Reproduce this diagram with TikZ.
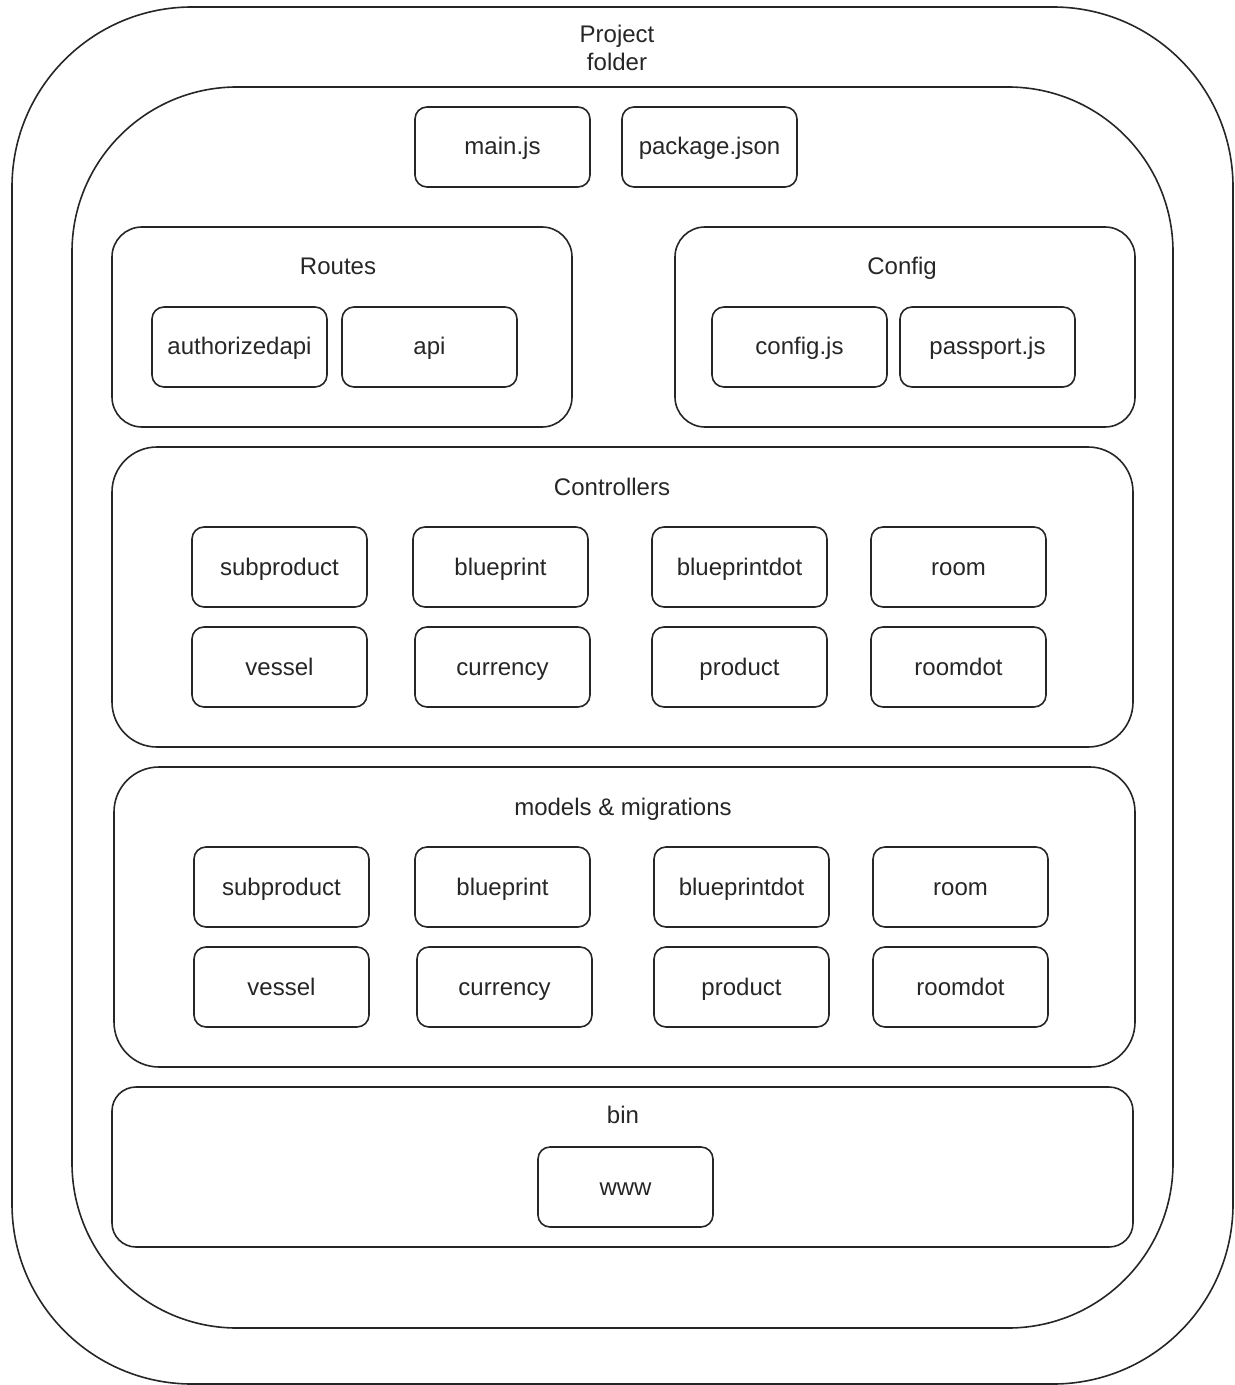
\documentclass[tikz,border=0pt]{standalone}
\usepackage{fontspec}
\setmainfont{Liberation Sans}
\begin{document}
\begin{tikzpicture}[x=0.5pt,y=-0.5pt,
  every node/.style={font=\fontsize{12pt}{14pt}\selectfont, text=black!85},
  frame/.style={draw=black!85, line width=0.8pt, rounded corners=#1, inner sep=0pt},
  file/.style={frame=6pt, minimum width=87.5pt, minimum height=40pt,
               text height=9pt, text depth=1pt},
  title/.style={align=center, inner sep=0pt},
  label/.style={inner sep=0pt, text height=9pt, text depth=1pt}]
\useasboundingbox (0,0) rectangle (1235,1385);

% folders
\node[frame=90pt, minimum width=610.5pt, minimum height=688.5pt] (project) at (622.5,695.5) {};
\node[frame=82.5pt, minimum width=550.5pt, minimum height=620.5pt] (src) at (622.5,707.5) {};
\node[frame=15pt, minimum width=230pt, minimum height=100pt] (routes) at (342,327) {};
\node[frame=15pt, minimum width=230pt, minimum height=100pt] (config) at (905,327) {};
\node[frame=22.5pt, minimum width=510.5pt, minimum height=150pt] (controllers) at (622.5,597) {};
\node[frame=22.5pt, minimum width=510.5pt, minimum height=150pt] (models) at (624.5,917) {};
\node[frame=12pt, minimum width=510.5pt, minimum height=80pt] (bin) at (622.5,1167) {};

% folder titles
\node[title] (projectT) at (617,47.5) {Project\\folder};
\node[label] (routesT) at (338,267) {Routes};
\node[label] (configT) at (902,267) {Config};
\node[label] (controllersT) at (612,487) {Controllers};
\node[label] (modelsT) at (623,807) {models \& migrations};
\node[label] (binT) at (623,1115) {bin};

% top-level files
\node[file] (mainjs) at (502.5,147) {main.js};
\node[file] (pkg) at (709.5,147) {package.json};

% routes
\node[file] (authapi) at (239.5,347) {authorizedapi};
\node[file] (api) at (429.5,347) {api};

% config
\node[file] (configjs) at (799.5,347) {config.js};
\node[file] (passport) at (987.5,347) {passport.js};

% controllers
\node[file] (cSub) at (279.5,567) {subproduct};
\node[file] (cBlue) at (500.5,567) {blueprint};
\node[file] (cBlueDot) at (739.5,567) {blueprintdot};
\node[file] (cRoom) at (958.5,567) {room};
\node[file] (cVessel) at (279.5,667) {vessel};
\node[file] (cCur) at (502.5,667) {currency};
\node[file] (cProd) at (739.5,667) {product};
\node[file] (cRoomDot) at (958.5,667) {roomdot};

% models & migrations
\node[file] (mSub) at (281.5,887) {subproduct};
\node[file] (mBlue) at (502.5,887) {blueprint};
\node[file] (mBlueDot) at (741.5,887) {blueprintdot};
\node[file] (mRoom) at (960.5,887) {room};
\node[file] (mVessel) at (281.5,987) {vessel};
\node[file] (mCur) at (504.5,987) {currency};
\node[file] (mProd) at (741.5,987) {product};
\node[file] (mRoomDot) at (960.5,987) {roomdot};

% bin
\node[file] (www) at (625.5,1187) {www};
\end{tikzpicture}
\end{document}
